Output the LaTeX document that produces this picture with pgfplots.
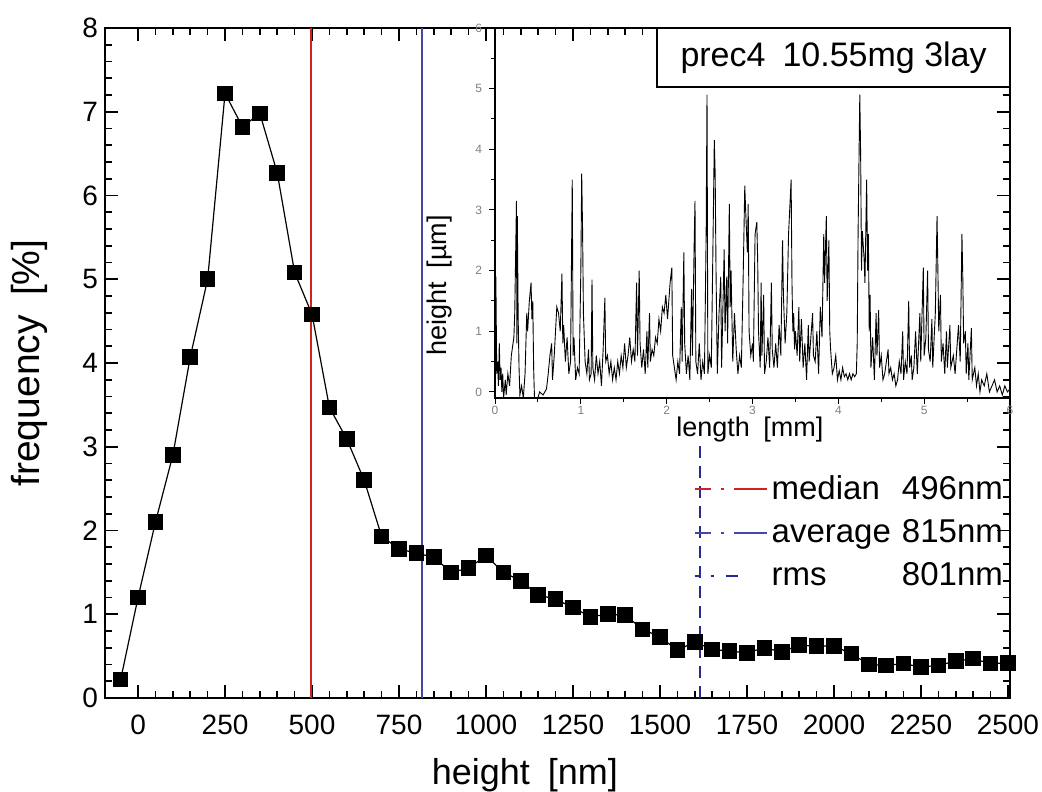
\documentclass[border=0pt]{standalone}
\usepackage{fontspec}
\setmainfont{Liberation Sans}
\usepackage{pgfplots}
\usepackage{pgfplotstable}
\pgfplotsset{compat=1.18}
\definecolor{medred}{RGB}{205,35,35}
\definecolor{avgblue}{RGB}{70,70,165}
\definecolor{rmsblue}{RGB}{40,40,150}

\pgfplotstableread{
x y
-50 0.22
0 1.2
50 2.1
100 2.9
150 4.07
200 5.0
250 7.22
300 6.82
350 6.98
400 6.27
450 5.08
500 4.58
550 3.47
600 3.09
650 2.6
700 1.93
750 1.78
800 1.73
850 1.68
900 1.5
950 1.55
1000 1.7
1050 1.5
1100 1.4
1150 1.23
1200 1.18
1250 1.08
1300 0.97
1350 1.0
1400 0.99
1450 0.82
1500 0.73
1550 0.57
1600 0.67
1650 0.58
1700 0.56
1750 0.54
1800 0.6
1850 0.55
1900 0.63
1950 0.62
2000 0.62
2050 0.53
2100 0.4
2150 0.39
2200 0.41
2250 0.37
2300 0.39
2350 0.44
2400 0.47
2450 0.41
2500 0.42
}\freqdata

\pgfplotstableread{
x y
0.00 0.4
0.01 1.9
0.02 0.3
0.03 0.5
0.04 0.1
0.05 0.8
0.06 0.2
0.07 0.4
0.08 0.0
0.09 0.3
0.10 -0.1
0.12 0.2
0.13 -0.05
0.15 0.3
0.17 0.1
0.19 0.6
0.20 0.7
0.22 0.9
0.23 1.3
0.25 3.15
0.255 0.8
0.26 2.9
0.27 1.2
0.28 0.4
0.29 -0.05
0.31 0.1
0.33 -0.1
0.35 0.3
0.37 1.3
0.38 1.0
0.40 1.5
0.42 1.8
0.43 1.2
0.44 1.5
0.45 0.4
0.46 -0.1
0.50 -0.1
0.52 0.0
0.56 -0.05
0.60 0.05
0.62 0.3
0.64 0.6
0.66 0.8
0.67 0.2
0.69 0.6
0.72 1.4
0.74 1.3
0.76 1.0
0.78 1.95
0.79 0.8
0.80 1.1
0.82 0.5
0.84 0.9
0.86 0.3
0.88 0.5
0.90 3.5
0.91 0.6
0.92 0.9
0.94 0.2
0.96 0.4
0.98 0.3
1.00 2.0
1.01 3.6
1.02 2.7
1.03 1.3
1.05 0.5
1.07 0.3
1.09 0.7
1.10 0.2
1.12 0.3
1.13 1.85
1.14 0.4
1.16 0.2
1.18 0.6
1.20 0.3
1.22 0.5
1.24 0.1
1.26 0.7
1.28 1.55
1.29 0.5
1.31 0.6
1.33 0.3
1.35 0.5
1.37 0.2
1.39 0.4
1.41 0.2
1.43 0.5
1.45 0.3
1.47 0.6
1.49 0.4
1.51 0.8
1.53 0.4
1.55 0.6
1.57 0.9
1.59 0.5
1.61 0.7
1.63 0.5
1.65 1.8
1.66 0.6
1.68 2.0
1.69 0.8
1.71 0.4
1.73 0.7
1.75 0.3
1.77 1.0
1.78 0.4
1.80 1.3
1.81 0.5
1.83 0.7
1.85 0.6
1.87 0.9
1.89 0.8
1.91 1.2
1.93 1.0
1.95 1.4
1.97 1.3
1.99 1.6
2.01 1.2
2.04 1.8
2.06 2.05
2.07 0.6
2.09 0.4
2.11 0.2
2.13 0.5
2.15 0.3
2.17 1.4
2.18 0.5
2.20 2.3
2.21 0.8
2.23 0.3
2.25 0.6
2.27 0.2
2.29 1.7
2.30 0.6
2.32 2.4
2.33 3.15
2.34 0.5
2.36 0.3
2.38 0.8
2.40 0.2
2.42 0.5
2.44 0.3
2.46 2.6
2.47 4.9
2.48 0.3
2.50 0.6
2.52 0.4
2.54 2.5
2.555 4.15
2.565 3.6
2.575 2.0
2.59 0.3
2.61 1.3
2.63 1.9
2.64 0.4
2.66 1.7
2.67 2.35
2.68 1.0
2.70 1.9
2.71 0.8
2.73 3.1
2.74 1.4
2.75 2.0
2.77 0.5
2.79 1.3
2.81 0.7
2.83 0.3
2.85 0.6
2.87 0.4
2.89 1.8
2.91 3.4
2.92 3.0
2.94 2.3
2.95 3.1
2.96 1.0
2.98 0.6
3.00 0.8
3.01 0.5
3.03 2.6
3.05 2.8
3.06 2.2
3.07 1.0
3.09 0.4
3.10 1.8
3.11 0.6
3.13 1.6
3.14 0.3
3.16 0.5
3.18 0.9
3.20 0.4
3.22 1.8
3.23 0.7
3.25 0.4
3.27 0.8
3.29 0.4
3.31 1.1
3.33 0.6
3.35 2.5
3.36 1.6
3.38 0.8
3.40 1.3
3.42 2.6
3.45 3.5
3.46 1.8
3.47 1.0
3.48 1.3
3.49 0.7
3.50 1.0
3.52 0.6
3.54 1.4
3.55 0.5
3.57 1.2
3.59 0.4
3.61 0.8
3.63 0.2
3.65 1.1
3.66 0.5
3.68 0.9
3.70 1.3
3.71 0.6
3.73 0.5
3.75 1.0
3.77 0.3
3.79 1.4
3.81 0.9
3.83 2.6
3.84 1.8
3.86 2.9
3.87 1.5
3.89 2.5
3.90 1.0
3.91 0.7
3.93 0.3
3.95 0.4
3.97 0.6
3.99 0.2
4.01 0.35
4.03 0.2
4.05 0.4
4.07 0.25
4.09 0.3
4.11 0.2
4.13 0.3
4.15 0.2
4.17 0.3
4.19 0.25
4.21 0.3
4.22 0.8
4.23 2.6
4.25 4.9
4.26 3.9
4.27 2.0
4.28 2.65
4.30 2.2
4.31 1.8
4.33 3.5
4.34 2.0
4.35 2.6
4.36 1.0
4.37 1.6
4.38 0.4
4.40 0.9
4.42 0.2
4.44 1.3
4.45 0.6
4.47 1.35
4.48 0.4
4.50 0.6
4.52 0.2
4.54 0.3
4.56 0.5
4.58 0.7
4.59 0.3
4.61 0.4
4.63 0.2
4.65 0.3
4.67 0.1
4.69 0.2
4.71 0.5
4.73 0.3
4.75 1.0
4.76 0.2
4.78 0.5
4.80 0.3
4.82 1.5
4.83 0.4
4.85 0.6
4.86 0.2
4.88 0.4
4.90 1.0
4.92 0.3
4.95 1.3
4.96 0.5
4.99 2.05
5.00 0.6
5.02 0.9
5.04 2.0
5.05 0.7
5.07 0.5
5.09 1.2
5.10 0.4
5.13 1.3
5.15 2.9
5.16 2.0
5.17 1.0
5.19 1.6
5.20 0.5
5.22 0.8
5.24 0.3
5.26 1.0
5.27 0.4
5.30 1.1
5.31 0.4
5.34 0.6
5.36 0.3
5.40 1.1
5.42 0.5
5.44 2.6
5.45 1.9
5.46 0.8
5.48 1.0
5.49 0.3
5.51 0.8
5.52 0.2
5.55 1.05
5.56 0.2
5.59 0.4
5.61 0.1
5.63 0.3
5.65 0.0
5.67 0.2
5.70 0.1
5.73 0.3
5.76 0.0
5.79 0.1
5.82 0.2
5.85 0.0
5.88 0.1
5.91 -0.05
5.94 0.1
5.97 0.0
6.00 0.05
}\profiledata

\begin{document}
\begin{tikzpicture}
\begin{axis}[
  name=main,
  at={(52.5pt,46.5pt)}, anchor=south west,
  scale only axis, width=452.5pt, height=335pt,
  xmin=-95, xmax=2506, ymin=0, ymax=8,
  xtick={0,250,...,2500}, ytick={0,1,...,8},
  minor x tick num=4, minor y tick num=4,
  xtick pos=both, ytick pos=both,
  tick align=inside,
  major tick length=6.5pt, minor tick length=3.5pt,
  tick style={black, line width=0.8pt},
  axis line style={line width=0.9pt},
  /pgf/number format/1000 sep={},
  /pgf/number format/assume math mode=true,
  ticklabel style={font=\fontsize{14}{16}\selectfont},
  xticklabel style={yshift=-5pt},
  xlabel={height\enspace[nm]},
  ylabel={frequency\enspace[\%]},
  xlabel style={font=\fontsize{18}{21}\selectfont, at={(axis description cs:0.464,-0.115)}, anchor=center},
  ylabel style={font=\fontsize{19.5}{22}\selectfont, at={(axis description cs:-0.083,0.5)}, anchor=center},
  legend style={draw=none, fill=none, at={(rel axis cs:0.650,0.338)}, anchor=north west,
    font=\fontsize{16.5}{19}\selectfont, row sep=4.5pt, inner sep=0pt},
  legend cell align=left,
  legend image code/.code={\draw (0pt,0pt) -- (36pt,0pt);},
]
\addplot[medred, line width=1.1pt, forget plot] coordinates {(496,0) (496,8)};
\addplot[avgblue, line width=0.9pt, forget plot] coordinates {(815,0) (815,8)};
\addplot[rmsblue, line width=1.1pt, dash pattern=on 6pt off 4pt, forget plot] coordinates {(1616,0) (1616,3.05)};
\addplot[black, line width=0.6pt, mark=square*, mark size=3.6pt, mark options={solid}, forget plot] table[x=x,y=y] {\freqdata};
\addlegendimage{medred, line width=1pt, dash pattern=on 8pt off 5pt on 1.5pt off 5pt on 20pt}
\addlegendentry{\makebox[3.95em][l]{median}496nm}
\addlegendimage{avgblue, line width=1pt, dash pattern=on 8pt off 5pt on 1.5pt off 5pt on 20pt}
\addlegendentry{\makebox[3.95em][l]{average}815nm}
\addlegendimage{rmsblue, line width=1pt, dash pattern=on 2pt off 6pt on 1.5pt off 6pt on 6pt off 30pt}
\addlegendentry{\makebox[3.95em][l]{rms}801nm}
\end{axis}

\begin{axis}[
  name=inset,
  at={(247.5pt,196.5pt)}, anchor=south west,
  scale only axis, width=257.5pt, height=185pt,
  xmin=0, xmax=6, ymin=-0.1, ymax=6,
  xtick={0,1,...,6}, ytick={0,1,...,6},
  minor x tick num=1, minor y tick num=1,
  xtick pos=left, ytick pos=left,
  tick align=outside,
  major tick length=3pt, minor tick length=1.8pt,
  tick style={black, line width=0.5pt},
  axis line style={line width=0.7pt},
  /pgf/number format/assume math mode=true,
  ticklabel style={font=\fontsize{6}{7}\selectfont, text=gray},
  xticklabel style={yshift=2.5pt},
  xlabel={length\enspace[mm]},
  ylabel={height\enspace[µm]},
  label style={font=\fontsize{13.5}{16}\selectfont},
  xlabel style={at={(axis description cs:0.495,-0.085)}, anchor=center},
  ylabel style={at={(axis description cs:-0.107,0.305)}, anchor=center},
]
\addplot[black, line width=0.45pt, mark=none] table[x=x,y=y] {\profiledata};
\draw[line width=0.8pt, fill=white] (rel axis cs:0.315,0.84) rectangle (rel axis cs:1,1);
\node[font=\fontsize{17}{20}\selectfont] at (rel axis cs:0.6575,0.92) {prec4\enspace10.55mg 3lay};
\end{axis}
\pgfresetboundingbox
\path (0pt,0pt) rectangle (521pt,395.5pt);
\end{tikzpicture}
\end{document}
